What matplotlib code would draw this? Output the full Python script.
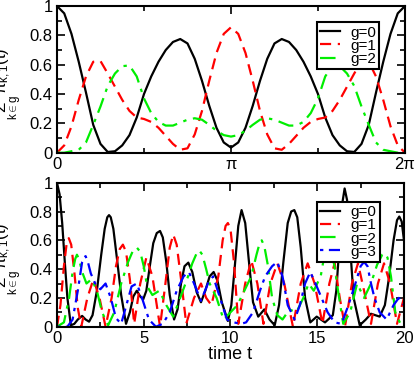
import numpy as np
import matplotlib
matplotlib.use('Agg')
import matplotlib.pyplot as plt
from matplotlib.ticker import MultipleLocator, FixedLocator

plt.rcParams['font.family'] = ['Liberation Sans', 'DejaVu Sans']
plt.rcParams['mathtext.fontset'] = 'custom'
plt.rcParams['mathtext.rm'] = 'Liberation Sans'
plt.rcParams['mathtext.it'] = 'Liberation Sans'

# ---- top panel: t in [0, 2pi], sampled every pi/24 ----
top_k = np.arange(49)
top_g0 = [1.0, 0.95, 0.81, 0.62, 0.41, 0.19, 0.06, 0.005, 0.01, 0.05, 0.12, 0.24, 0.40,
          0.52, 0.62, 0.70, 0.755, 0.775, 0.745, 0.64, 0.49, 0.32, 0.17, 0.07, 0.035,
          0.07, 0.17, 0.32, 0.49, 0.64, 0.745, 0.775, 0.755, 0.70, 0.62, 0.52, 0.40,
          0.24, 0.12, 0.05, 0.01, 0.005, 0.06, 0.19, 0.41, 0.62, 0.81, 0.95, 1.0]
top_g1 = [0.0, 0.05, 0.18, 0.36, 0.52, 0.62, 0.625, 0.54, 0.45, 0.36, 0.285, 0.24, 0.23,
          0.21, 0.17, 0.115, 0.06, 0.02, 0.03, 0.125, 0.285, 0.49, 0.68, 0.81, 0.855,
          0.81, 0.68, 0.49, 0.285, 0.125, 0.03, 0.02, 0.06, 0.115, 0.17, 0.21, 0.23,
          0.24, 0.285, 0.36, 0.45, 0.54, 0.625, 0.62, 0.52, 0.36, 0.18, 0.05, 0.0]
top_g2 = [0.0, 0.0, 0.01, 0.02, 0.07, 0.19, 0.315, 0.455, 0.54, 0.59, 0.595, 0.52, 0.37,
          0.27, 0.21, 0.185, 0.185, 0.205, 0.225, 0.235, 0.225, 0.19, 0.15, 0.12, 0.11,
          0.12, 0.15, 0.19, 0.225, 0.235, 0.225, 0.205, 0.185, 0.185, 0.21, 0.27, 0.37,
          0.52, 0.595, 0.59, 0.54, 0.455, 0.315, 0.19, 0.07, 0.02, 0.01, 0.0, 0.0]

# ---- bottom panel: (time, value) read at extrema and between ----
bot_t0 = [0, 0.15, 0.3, 0.45, 0.6, 0.8, 1.0, 1.2, 1.45, 1.65, 1.85, 2.05, 2.3, 2.55,
          2.75, 2.9, 3.0, 3.1, 3.25, 3.45, 3.7, 3.98, 4.2, 4.4, 4.6, 4.8, 4.97, 5.15,
          5.35, 5.55, 5.75, 5.94, 6.1, 6.3, 6.5, 6.75, 6.95, 7.15, 7.35, 7.57, 7.8,
          8.05, 8.3, 8.55, 8.8, 9.03, 9.25, 9.5, 9.85, 10.05, 10.25, 10.45, 10.64,
          10.85, 11.05, 11.3, 11.6, 11.95, 12.25, 12.55, 12.8, 13.05, 13.3, 13.5, 13.68,
          13.85, 14.05, 14.3, 14.6, 14.97, 15.45, 15.9, 16.1, 16.3, 16.45, 16.58, 16.72,
          16.9, 17.1, 17.45, 17.8, 18.1, 18.6, 18.9, 19.15, 19.4, 19.6, 19.73, 19.87, 20]
bot_g0 = [1.0, 0.92, 0.72, 0.45, 0.2, 0.01, 0.02, 0.05, 0.075, 0.05, 0.035, 0.08, 0.25,
          0.5, 0.68, 0.76, 0.775, 0.76, 0.68, 0.48, 0.22, 0.02, 0.1, 0.21, 0.25, 0.21,
          0.19, 0.25, 0.42, 0.58, 0.65, 0.665, 0.62, 0.45, 0.22, 0.05, 0.12, 0.3, 0.42,
          0.445, 0.38, 0.24, 0.17, 0.25, 0.35, 0.38, 0.32, 0.17, 0.04, 0.15, 0.42, 0.7,
          0.81, 0.72, 0.47, 0.17, 0.07, 0.12, 0.05, 0.01, 0.15, 0.45, 0.72, 0.8, 0.81,
          0.76, 0.55, 0.2, 0.03, 0.07, 0.03, 0.08, 0.25, 0.6, 0.86, 0.96, 0.88, 0.55,
          0.2, 0.01, 0.05, 0.09, 0.07, 0.15, 0.35, 0.6, 0.74, 0.765, 0.73, 0.6]

bot_t1 = [0, 0.2, 0.4, 0.55, 0.68, 0.82, 1.0, 1.2, 1.4, 1.75, 2.1, 2.45, 2.8, 3.15, 3.4,
          3.62, 3.8, 3.98, 4.2, 4.45, 4.8, 5.15, 5.5, 5.94, 6.25, 6.5, 6.7, 6.9, 7.15,
          7.45, 7.9, 8.3, 8.6, 8.9, 9.3, 9.55, 9.72, 9.85, 10.0, 10.2, 10.45, 10.85,
          11.2, 11.55, 11.9, 12.3, 12.7, 13.1, 13.6, 14.05, 14.45, 14.85, 15.3, 15.7,
          16.0, 16.3, 16.6, 17.0, 17.35, 17.7, 18.1, 18.5, 18.85, 19.2, 19.6, 20]
bot_g1 = [0.0, 0.15, 0.42, 0.57, 0.615, 0.57, 0.38, 0.13, 0.0, 0.2, 0.33, 0.2, 0.0, 0.2,
          0.42, 0.54, 0.57, 0.52, 0.33, 0.02, 0.3, 0.48, 0.35, 0.0, 0.3, 0.55, 0.64,
          0.57, 0.33, 0.02, 0.2, 0.3, 0.2, 0.15, 0.35, 0.6, 0.7, 0.72, 0.68, 0.45, 0.02,
          0.3, 0.46, 0.3, 0.02, 0.3, 0.44, 0.3, 0.0, 0.3, 0.44, 0.3, 0.02, 0.3, 0.44,
          0.2, 0.0, 0.3, 0.44, 0.25, 0.02, 0.3, 0.44, 0.3, 0.02, 0.2]

bot_t2 = [0, 0.4, 0.7, 0.9, 1.05, 1.15, 1.27, 1.45, 1.7, 2.0, 2.3, 2.6, 2.95, 3.3, 3.7,
          4.1, 4.35, 4.6, 4.8, 5.0, 5.2, 5.5, 5.9, 6.3, 6.7, 7.1, 7.5, 7.8, 8.05, 8.2,
          8.38, 8.6, 8.8, 9.2, 9.6, 10.0, 10.4, 10.8, 11.2, 11.5, 11.68, 11.8, 11.95,
          12.15, 12.4, 12.7, 13.0, 13.4, 13.8, 14.2, 14.5, 14.8, 15.2, 15.42, 15.6,
          15.78, 16.0, 16.2, 16.5, 16.9, 17.3, 17.7, 18.1, 18.45, 18.75, 18.9, 19.05,
          19.25, 19.5, 19.8, 20]
bot_g2 = [0.0, 0.03, 0.2, 0.38, 0.47, 0.5, 0.47, 0.38, 0.3, 0.33, 0.25, 0.1, 0.01, 0.1,
          0.3, 0.45, 0.52, 0.55, 0.52, 0.42, 0.28, 0.22, 0.25, 0.15, 0.07, 0.2, 0.33,
          0.44, 0.51, 0.53, 0.5, 0.4, 0.3, 0.2, 0.05, 0.1, 0.15, 0.25, 0.35, 0.5, 0.58,
          0.6, 0.56, 0.43, 0.2, 0.08, 0.05, 0.12, 0.1, 0.2, 0.3, 0.25, 0.35, 0.5, 0.57,
          0.53, 0.42, 0.25, 0.02, 0.1, 0.3, 0.2, 0.3, 0.43, 0.5, 0.51, 0.48, 0.35, 0.1,
          0.02, 0.05]

bot_t3 = [0, 0.6, 0.9, 1.2, 1.45, 1.55, 1.65, 1.78, 1.95, 2.2, 2.5, 2.8, 3.1, 3.4, 3.7,
          4.0, 4.3, 4.6, 4.9, 5.3, 5.7, 6.1, 6.5, 6.9, 7.3, 7.6, 7.9, 8.3, 8.7, 9.0, 9.4,
          9.8, 10.2, 10.6, 10.9, 11.3, 11.7, 12.0, 12.4, 12.7, 13.0, 13.3, 13.7, 14.0,
          14.3, 14.6, 14.9, 15.25, 15.6, 16.0, 16.4, 16.8, 17.2, 17.5, 17.7, 17.9, 18.1,
          18.3, 18.6, 19.0, 19.4, 19.7, 20]
bot_g3 = [0.0, 0.0, 0.05, 0.25, 0.45, 0.48, 0.49, 0.45, 0.37, 0.3, 0.26, 0.3, 0.2, 0.06,
          0.02, 0.15, 0.28, 0.3, 0.2, 0.05, 0.0, 0.02, 0.1, 0.25, 0.35, 0.38, 0.3, 0.18,
          0.3, 0.35, 0.2, 0.05, 0.03, 0.02, 0.03, 0.1, 0.25, 0.35, 0.42, 0.45, 0.35,
          0.15, 0.05, 0.15, 0.3, 0.38, 0.3, 0.2, 0.1, 0.03, 0.02, 0.15, 0.3, 0.42, 0.45,
          0.42, 0.3, 0.2, 0.1, 0.05, 0.15, 0.2, 0.15]

yticks = [0, 0.2, 0.4, 0.6, 0.8, 1.0]
ytick_labels = ['0', '0.2', '0.4', '0.6', '0.8', '1']
labels = ['g=0', 'g=1', 'g=2', 'g=3']
ylab = r'$\underset{k\in g}{\Sigma}\,\pi_{k,1}(t)$'

styles = [dict(color='black', ls='-'),
          dict(color='#ff0000', ls=(0, (5, 3))),
          dict(color='#00ee00', ls=(0, (7, 3, 1.5, 3))),
          dict(color='#0000ff', ls=(0, (1.5, 2.5, 6, 2.5)))]


def style_axes(ax):
    for s in ax.spines.values():
        s.set_linewidth(1.5)
    ax.tick_params(which='both', direction='in', top=True, right=True, width=1.2,
                   labelsize=12, pad=3)
    ax.tick_params(which='major', length=6)
    ax.tick_params(which='minor', length=3.5)
    ax.set_ylim(0, 1)
    ax.set_yticks(yticks, labels=ytick_labels)
    ax.yaxis.set_minor_locator(MultipleLocator(0.1))
    ax.set_ylabel(ylab, fontsize=12, labelpad=0)
    ax.yaxis.set_label_coords(-0.095, 0.47)


def add_legend(ax, anchor):
    leg = ax.legend(loc='upper left', bbox_to_anchor=anchor, fontsize=11,
                    frameon=True, fancybox=False, framealpha=1, edgecolor='black',
                    borderpad=0.2, labelspacing=-0.05, handlelength=1.3,
                    handletextpad=0.7, borderaxespad=0)
    leg.get_frame().set_linewidth(1.5)


fig = plt.figure(figsize=(4.15, 3.65), dpi=100)

ax1 = fig.add_axes([0.1373, 0.5816, 0.8386, 0.4019])
t_top = top_k * np.pi / 24
for vals, st, lab in zip([top_g0, top_g1, top_g2], styles, labels):
    ax1.plot(t_top, vals, lw=1.6, label=lab, **st)
ax1.set_xlim(0, 2 * np.pi)
style_axes(ax1)
ax1.xaxis.set_major_locator(FixedLocator([0, np.pi, 2 * np.pi]))
ax1.xaxis.set_minor_locator(FixedLocator([np.pi / 2, 3 * np.pi / 2]))
ax1.set_xticklabels(['0', 'π', '2π'])
add_legend(ax1, (0.746, 0.888))

ax2 = fig.add_axes([0.1373, 0.1049, 0.8361, 0.3945])
bot = [(bot_t0, bot_g0), (bot_t1, bot_g1), (bot_t2, bot_g2), (bot_t3, bot_g3)]
for (tt, vals), st, lab in zip(bot, styles, labels):
    ax2.plot(tt, vals, lw=1.6, label=lab, **st)
ax2.set_xlim(0, 20)
style_axes(ax2)
ax2.xaxis.set_major_locator(MultipleLocator(5))
ax2.xaxis.set_minor_locator(MultipleLocator(2.5))
ax2.set_xlabel('time t', fontsize=13, labelpad=0)
add_legend(ax2, (0.75, 0.866))

fig.savefig('out.png', dpi=100)
